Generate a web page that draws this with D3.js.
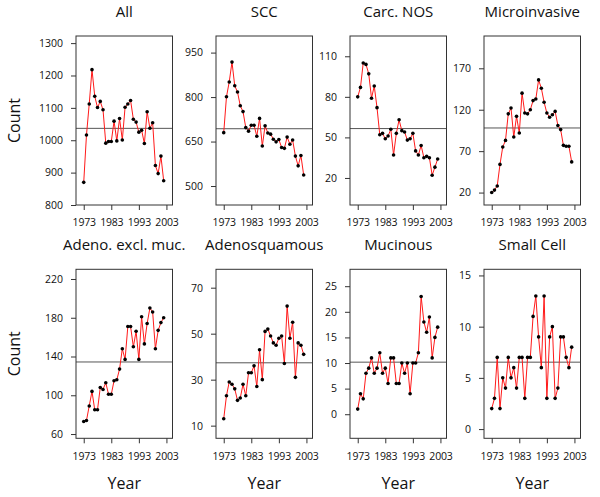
<!DOCTYPE html>
<html>
<head>
<meta charset="utf-8">
<script src="https://cdn.jsdelivr.net/npm/d3@7"></script>
<style>
  body { margin: 0; background: #fff; }
  text { font-family: "Open Sans", sans-serif; fill: #111; }
</style>
</head>
<body>
<svg id="chart" width="600" height="497"></svg>
<script>
// yearly counts, 1973-2002
var years = [1973, 1974, 1975, 1976, 1977, 1978, 1979, 1980, 1981, 1982,
             1983, 1984, 1985, 1986, 1987, 1988, 1989, 1990, 1991, 1992,
             1993, 1994, 1995, 1996, 1997, 1998, 1999, 2000, 2001, 2002];

var titles = ['All', 'SCC', 'Carc. NOS', 'Microinvasive',
              'Adeno. excl. muc.', 'Adenosquamous', 'Mucinous', 'Small Cell'];

var allCounts = [870, 1016, 1112, 1218, 1136, 1101, 1120, 1094, 991, 996,
                 996, 1059, 998, 1067, 1001, 1102, 1112, 1123, 1065, 1056,
                 1025, 1031, 990, 1088, 1037, 1054, 922, 897, 951, 875];
var sccCounts = [680, 801, 851, 918, 838, 817, 771, 751, 697, 685,
                 705, 705, 668, 728, 635, 703, 679, 675, 658, 649,
                 657, 630, 627, 665, 641, 655, 601, 568, 603, 537];
var carcNosCounts = [80, 87, 105, 104, 97, 79, 88, 72, 52, 53,
                     49, 51, 56, 37, 53, 63, 55, 54, 48, 49,
                     53, 40, 37, 44, 35, 36, 35, 22, 28, 34];
var microCounts = [20, 23, 28, 54, 75, 83, 115, 122, 87, 112,
                   92, 140, 116, 115, 120, 131, 133, 156, 146, 129,
                   116, 111, 114, 118, 101, 96, 77, 76, 76, 57];
var adenoCounts = [73, 74, 89, 104, 85, 85, 108, 106, 113, 101,
                   101, 115, 116, 127, 148, 137, 171, 171, 150, 166,
                   137, 181, 153, 174, 190, 186, 148, 167, 175, 180];
var adenosqCounts = [13, 23, 29, 28, 26, 21, 22, 28, 23, 33,
                     33, 36, 27, 43, 30, 51, 52, 49, 46, 45,
                     48, 49, 37, 62, 48, 55, 31, 46, 45, 41];
var mucinousCounts = [1, 4, 3, 8, 9, 11, 8, 9, 12, 8,
                      9, 6, 11, 11, 6, 6, 10, 8, 10, 4,
                      10, 10, 12, 23, 18, 16, 19, 11, 15, 17];
var smallCellCounts = [2, 3, 7, 2, 5, 4, 7, 5, 6, 4,
                       7, 7, 3, 7, 7, 11, 13, 9, 6, 13,
                       3, 9, 10, 3, 4, 9, 9, 7, 6, 8];

var xTicks = [1973, 1983, 1993, 2003];
var yTicks = [
  [800, 900, 1000, 1100, 1200, 1300],
  [500, 650, 800, 950],
  [20, 50, 80, 110],
  [20, 70, 120, 170],
  [60, 100, 140, 180, 220],
  [10, 30, 50, 70],
  [0, 5, 10, 15, 20, 25],
  [0, 5, 10, 15]
];
var yLimits = [
  [800, 1322], [436, 1006], [0, 125], [5, 209],
  [55.6, 230], [4.5, 78], [-4.7, 28.3], [-0.9, 15.6]
];
var xLimits = [1970.2, 2005.2];

var series = [allCounts, sccCounts, carcNosCounts, microCounts,
              adenoCounts, adenosqCounts, mucinousCounts, smallCellCounts];

var svg = d3.select('#chart');
var colLeft = [76, 216, 350, 484];
var rowTop = [36, 269.3];
var boxW = 96.5, boxH = 169;

series.forEach(function (values, i) {
  var col = i % 4, row = Math.floor(i / 4);
  var g = svg.append('g')
    .attr('transform', 'translate(' + colLeft[col] + ',' + rowTop[row] + ')');

  var x = d3.scaleLinear().domain(xLimits).range([0, boxW]);
  var y = d3.scaleLinear().domain(yLimits[i]).range([boxH, 0]);
  var pts = years.map(function (yr, k) { return { year: yr, count: values[k] }; });

  var yAxis = g.append('g')
    .call(d3.axisLeft(y).tickValues(yTicks[i]).tickFormat(d3.format('d'))
      .tickSize(5).tickPadding(8));
  var xAxis = g.append('g')
    .attr('transform', 'translate(0,' + boxH + ')')
    .call(d3.axisBottom(x).tickValues(xTicks).tickFormat(d3.format('d'))
      .tickSize(5).tickPadding(9));
  [xAxis, yAxis].forEach(function (a) {
    a.select('.domain').remove();
    a.selectAll('line').attr('stroke', '#333');
    a.selectAll('text').style('font-size', '10.5px').attr('fill', '#111');
  });
  xAxis.selectAll('text').style('letter-spacing', '-0.2px');

  // mean line
  var m = d3.mean(values);
  g.append('line')
    .attr('x1', 0).attr('x2', boxW)
    .attr('y1', y(m)).attr('y2', y(m))
    .attr('stroke', '#555').attr('stroke-width', 1);

  g.append('path')
    .datum(pts)
    .attr('fill', 'none')
    .attr('stroke', '#ff1a1a')
    .attr('stroke-width', 1)
    .attr('d', d3.line()
      .x(function (d) { return x(d.year); })
      .y(function (d) { return y(d.count); }));

  g.selectAll('circle')
    .data(pts)
    .enter().append('circle')
    .attr('cx', function (d) { return x(d.year); })
    .attr('cy', function (d) { return y(d.count); })
    .attr('r', 1.8)
    .attr('fill', '#000');

  g.append('rect')
    .attr('width', boxW).attr('height', boxH)
    .attr('fill', 'none').attr('stroke', '#333').attr('stroke-width', 1);

  g.append('text')
    .attr('x', boxW / 2).attr('y', -19)
    .attr('text-anchor', 'middle')
    .style('font-size', '15px')
    .text(titles[i]);

  if (col === 0) {
    g.append('text')
      .attr('transform', 'translate(' + (-62) + ',' + (boxH / 2) + ') rotate(-90)')
      .attr('text-anchor', 'middle')
      .attr('dy', '0.35em')
      .style('font-size', '16px')
      .text('Count');
  }
  if (row === 1) {
    g.append('text')
      .attr('x', boxW / 2).attr('y', boxH + 45)
      .attr('text-anchor', 'middle')
      .attr('dy', '0.35em')
      .style('font-size', '16px')
      .text('Year');
  }
});
</script>
</body>
</html>
